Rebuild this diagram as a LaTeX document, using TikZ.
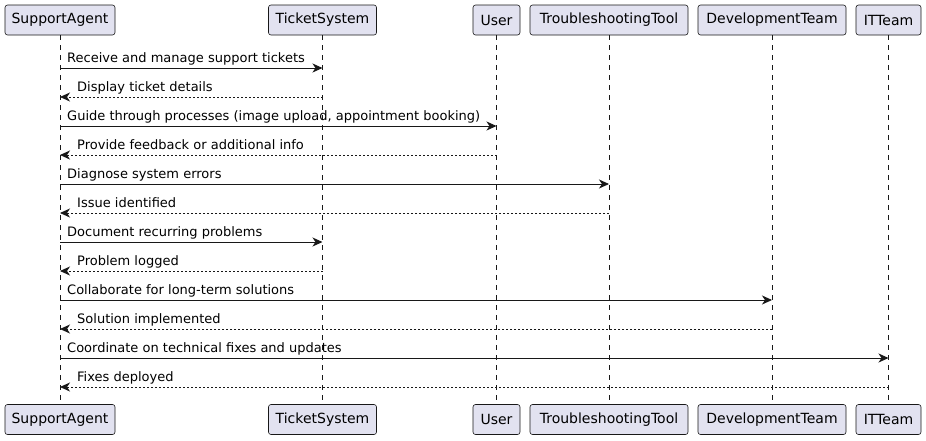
\documentclass[tikz,border=0pt]{standalone}
\usepackage{fontspec}
\setmainfont{DejaVu Sans}
\usetikzlibrary{arrows.meta}
\definecolor{boxfill}{HTML}{E2E2F0}
\definecolor{ink}{HTML}{181818}
\tikzset{
  actor/.style={draw=ink, fill=boxfill, rounded corners=2.5pt, line width=0.6pt,
    minimum height=30pt, inner sep=0pt, font=\fontsize{14}{16}\selectfont, text=black},
  lifeline/.style={draw=ink, line width=0.5pt, dash pattern=on 5pt off 5pt},
  msg/.style={draw=ink, line width=0.9pt, -{Stealth[length=10pt,width=9pt,inset=3pt]}},
  ret/.style={draw=ink, line width=0.9pt, dash pattern=on 2pt off 2pt, -{Stealth[length=10pt,width=9pt,inset=3pt]}},
  lbl/.style={anchor=base west, inner sep=0pt, font=\fontsize{13}{15}\selectfont, text=black}
}
\begin{document}
\begin{tikzpicture}[x=1pt,y=-1pt]
\useasboundingbox (0,0) rectangle (926,440);
% top participants
\node[actor, minimum width=110pt] (a1) at (60,20) {SupportAgent};
\node[actor, minimum width=108pt] (a2) at (322.5,20) {TicketSystem};
\node[actor, minimum width=47pt] (a3) at (496.5,20) {User};
\node[actor, minimum width=158pt] (a4) at (609,20) {TroubleshootingTool};
\node[actor, minimum width=148pt] (a5) at (772,20) {DevelopmentTeam};
\node[actor, minimum width=65pt] (a6) at (888.5,20) {ITTeam};
% bottom participants
\node[actor, minimum width=110pt] (b1) at (60,419.5) {SupportAgent};
\node[actor, minimum width=108pt] (b2) at (322.5,419.5) {TicketSystem};
\node[actor, minimum width=47pt] (b3) at (496.5,419.5) {User};
\node[actor, minimum width=158pt] (b4) at (609,419.5) {TroubleshootingTool};
\node[actor, minimum width=148pt] (b5) at (772,419.5) {DevelopmentTeam};
\node[actor, minimum width=65pt] (b6) at (888.5,419.5) {ITTeam};
% lifelines
\foreach \i in {1,...,6} {
  \draw[lifeline] (a\i.south) -- (b\i.north);
}
% messages
\draw[msg] (a1.south |- 0,68) -- (a2.south |- 0,68);
\node[lbl] (t1) at (67,62) {Receive and manage support tickets};
\draw[ret] (a2.south |- 0,97) -- (a1.south |- 0,97);
\node[lbl] (t2) at (77,91) {Display ticket details};
\draw[msg] (a1.south |- 0,126) -- (a3.south |- 0,126);
\node[lbl] (t3) at (67,120) {Guide through processes (image upload, appointment booking)};
\draw[ret] (a3.south |- 0,155) -- (a1.south |- 0,155);
\node[lbl] (t4) at (77,149) {Provide feedback or additional info};
\draw[msg] (a1.south |- 0,184) -- (a4.south |- 0,184);
\node[lbl] (t5) at (67,178) {Diagnose system errors};
\draw[ret] (a4.south |- 0,213) -- (a1.south |- 0,213);
\node[lbl] (t6) at (77,207) {Issue identified};
\draw[msg] (a1.south |- 0,242) -- (a2.south |- 0,242);
\node[lbl] (t7) at (67,236) {Document recurring problems};
\draw[ret] (a2.south |- 0,271) -- (a1.south |- 0,271);
\node[lbl] (t8) at (77,265) {Problem logged};
\draw[msg] (a1.south |- 0,300) -- (a5.south |- 0,300);
\node[lbl] (t9) at (67,294) {Collaborate for long-term solutions};
\draw[ret] (a5.south |- 0,329) -- (a1.south |- 0,329);
\node[lbl] (t10) at (77,323) {Solution implemented};
\draw[msg] (a1.south |- 0,358) -- (a6.south |- 0,358);
\node[lbl] (t11) at (67,352) {Coordinate on technical fixes and updates};
\draw[ret] (a6.south |- 0,387) -- (a1.south |- 0,387);
\node[lbl] (t12) at (77,381) {Fixes deployed};
\end{tikzpicture}
\end{document}
